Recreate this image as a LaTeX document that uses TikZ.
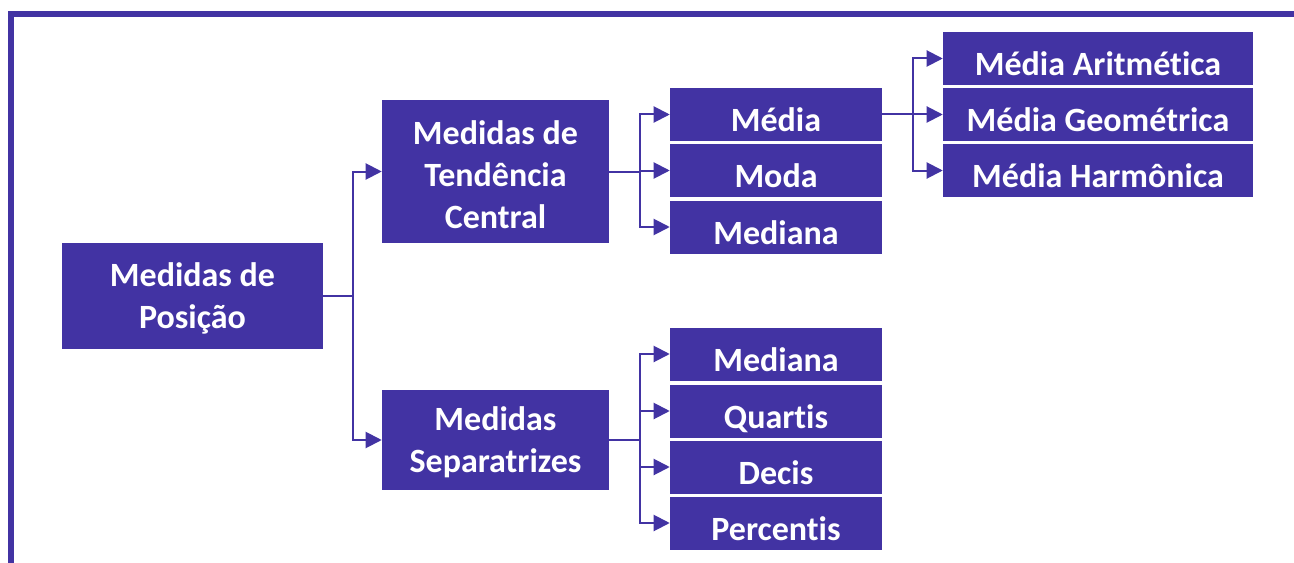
\documentclass[tikz,border=0pt]{standalone}
\usepackage{fontspec}
\setmainfont{Carlito}[Ligatures=NoCommon]
\usetikzlibrary{arrows.meta}
\definecolor{roxo}{RGB}{66,51,163}
\tikzset{
  caixa/.style={fill=roxo, text=white, inner sep=0pt, align=center,
    text depth=0pt, font=\bfseries\fontsize{25.5}{31.5}\selectfont},
  duas/.style={caixa, text height=49pt, minimum width=170.25pt},
  item/.style={caixa, text height=25.5pt, minimum width=159pt, minimum height=39.75pt},
  itemlargo/.style={item, minimum width=232.5pt},
  liga/.style={draw=roxo, line width=1.5pt, -{Triangle[length=12pt,width=12pt]}},
}
\begin{document}
\begin{tikzpicture}[x=0.75pt,y=-0.75pt]
    \useasboundingbox (0,0) rectangle (1294,563);
    \draw[roxo, line width=4.5pt](11,563)--(11,14)--(1294,14);
    % nivel 1 e 2
    \node[duas, minimum width=195.75pt, minimum height=79.5pt] (pos) at (192.5,296) {Medidas de\\Posição};
    \node[caixa, text height=85pt, minimum width=170.25pt, minimum height=107.25pt] (tend) at (495.5,171.5) {Medidas de\\Tendência\\Central};
    \node[duas, minimum height=75pt] (sep) at (495.5,440) {Medidas\\Separatrizes};
    % nivel 3
    \node[item] (media) at (776,114.5) {Média};
    \node[item] (moda) at (776,170.5) {Moda};
    \node[item] (mediana) at (776,227) {Mediana};
    \node[item] (mediana2) at (776,354) {Mediana};
    \node[item] (quartis) at (776,411) {Quartis};
    \node[item] (decis) at (776,467) {Decis};
    \node[item] (percentis) at (776,523) {Percentis};
    % nivel 4
    \node[itemlargo] (arit) at (1098,58.5) {Média Aritmética};
    \node[itemlargo] (geo) at (1098,114.5) {Média Geométrica};
    \node[itemlargo] (harm) at (1098,170.5) {Média Harmônica};
    % ligacoes
    \foreach \b in {tend,sep}
        \draw[liga](pos.east)--+(29.5,0)|-(\b.west);
    \foreach \b in {media,moda,mediana}
        \draw[liga](tend.east)--+(30.5,0)|-(\b.west);
    \foreach \b in {mediana2,quartis,decis,percentis}
        \draw[liga](sep.east)--+(30.5,0)|-(\b.west);
    \foreach \b in {arit,geo,harm}
        \draw[liga](media.east)--+(30.5,0)|-(\b.west);
\end{tikzpicture}
\end{document}
